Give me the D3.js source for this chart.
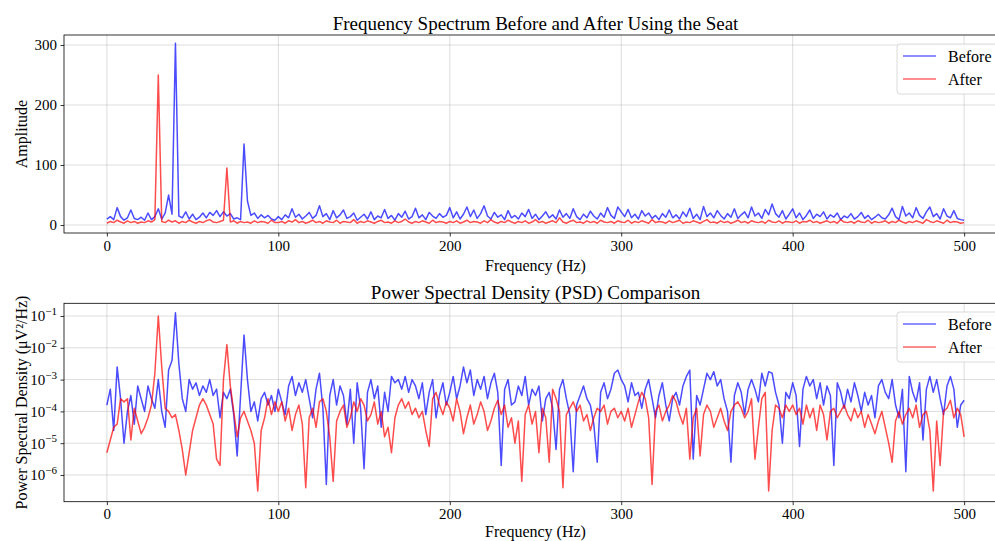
<!DOCTYPE html>
<meta charset="utf-8">
<style>
body { margin: 0; background: #fff; }
svg { font-family: "Liberation Serif", "Times New Roman", serif; }
.grid line { stroke: #b0b0b0; stroke-opacity: 0.55; stroke-width: 0.8; }
.axis path { display: none; }
.axis line { stroke: #000; stroke-width: 0.8; }
.axis text { font-size: 15px; fill: #000; font-family: "Liberation Serif", serif; }
</style>
<body>
<svg width="995" height="541"></svg>
<script src="https://d3js.org/d3.v7.min.js"></script>
<script>
// frequency grid, 2 Hz steps from 0 to 500 Hz
var freqs = d3.range(0, 501, 2);

// amplitude spectrum, one value per 2 Hz
var ampBefore = [
  10,14,9,29,14,8,12,25,11,9,
  13,8,20,9,14,27,10,20,50,18,
  303,15,12,22,10,18,9,13,20,12,
  21,16,24,14,22,15,19,10,12,9,
  135,40,16,20,11,17,12,16,10,8,
  14,9,17,12,27,13,18,10,15,21,
  11,16,32,14,19,9,24,12,17,25,
  11,14,20,8,13,18,10,22,9,15,
  12,26,11,16,8,19,13,23,10,14,
  28,12,17,9,21,15,11,19,13,16,
  29,12,22,10,18,30,14,25,11,19,
  32,15,10,21,13,17,9,24,12,16,
  10,20,14,26,11,18,9,15,22,12,
  17,10,25,13,19,11,27,14,9,18,
  12,23,15,10,20,13,29,16,11,30,
  22,14,26,12,18,10,24,15,20,11,
  16,9,19,13,25,12,17,10,22,14,
  28,11,18,9,31,14,20,12,24,16,
  10,19,13,27,11,17,22,12,30,15,
  20,11,26,17,35,19,13,24,10,18,
  27,12,20,9,16,25,11,18,14,22,
  10,17,13,20,9,15,12,19,10,14,
  21,11,16,9,13,18,12,10,17,28,
  14,9,31,15,20,12,29,16,11,22,
  30,14,19,10,27,15,12,24,11,9,
  8
];
var ampAfter = [
  3,6,4,8,5,3,7,4,6,3,
  5,4,7,5,9,250,6,4,8,5,
  7,3,6,4,8,5,3,6,4,7,
  9,5,4,6,8,95,5,7,3,6,
  4,5,3,7,4,6,5,3,8,4,
  4,6,3,7,5,9,4,6,3,5,
  8,4,6,3,7,5,4,8,3,6,
  5,4,9,3,6,4,7,5,3,6,
  8,4,5,3,7,4,6,10,5,3,
  6,4,7,5,3,8,4,6,5,3,
  6,4,7,3,5,8,4,6,5,3,
  7,4,9,5,3,6,4,8,5,3,
  6,4,7,3,5,9,4,6,3,5,
  7,4,12,5,3,6,8,4,5,3,
  7,4,6,3,8,5,4,6,3,7,
  5,4,8,3,6,4,7,5,3,9,
  4,6,5,3,7,4,6,8,3,5,
  4,7,5,3,6,9,4,5,3,7,
  4,6,3,5,8,4,6,3,7,5,
  4,6,3,8,5,4,7,3,6,5,
  4,7,3,6,5,8,4,6,3,5,
  7,4,6,3,9,5,4,6,3,7,
  5,4,8,3,6,4,5,7,3,6,
  4,8,5,3,6,4,7,5,3,9,
  6,4,7,5,3,8,4,6,5,3,
  4
];

// PSD as log10 exponents, one value per 2 Hz
var psdBeforeLog = [
  -3.8,-3.3,-4.6,-2.6,-3.6,-5.0,-4.0,-3.5,-4.4,-3.2,
  -3.6,-4.0,-3.2,-3.6,-3.9,-3.0,-4.0,-4.5,-2.7,-2.4,
  -0.9,-2.5,-3.6,-4.0,-3.0,-3.3,-3.1,-3.5,-3.2,-3.4,
  -3.0,-3.5,-3.3,-4.2,-3.4,-3.6,-3.3,-4.1,-5.4,-3.5,
  -1.6,-3.0,-4.0,-3.7,-4.3,-3.6,-3.4,-3.8,-3.5,-4.0,
  -3.3,-3.7,-4.1,-3.2,-2.9,-3.5,-3.1,-3.4,-3.0,-3.6,
  -4.2,-3.3,-2.8,-3.9,-6.3,-3.5,-3.0,-3.8,-3.2,-3.5,
  -4.4,-3.3,-5.0,-3.1,-3.9,-5.8,-3.4,-3.0,-3.6,-3.2,
  -4.5,-3.4,-4.0,-2.9,-3.1,-3.0,-3.3,-2.9,-3.4,-3.0,
  -3.2,-3.6,-3.1,-4.1,-3.4,-3.0,-4.2,-3.5,-3.1,-3.8,
  -3.4,-2.9,-3.6,-3.2,-2.6,-3.1,-2.7,-3.5,-3.0,-3.3,
  -2.9,-3.6,-3.1,-2.8,-3.4,-5.7,-3.3,-3.0,-3.8,-3.7,
  -3.2,-3.5,-2.9,-3.8,-3.3,-3.5,-3.2,-4.3,-3.6,-3.4,
  -3.9,-5.2,-3.3,-3.0,-3.6,-4.1,-5.9,-3.8,-3.5,-3.2,
  -3.6,-3.8,-4.4,-5.6,-3.4,-3.1,-3.6,-3.3,-2.8,-2.7,
  -3.0,-3.2,-3.7,-3.1,-3.5,-3.4,-3.9,-3.3,-3.0,-3.6,
  -4.2,-3.5,-3.1,-3.8,-4.3,-3.6,-3.4,-3.8,-3.2,-2.9,
  -2.7,-5.5,-3.5,-3.8,-3.3,-2.8,-3.0,-2.75,-3.2,-3.0,
  -3.6,-4.0,-5.6,-3.5,-3.1,-3.4,-4.1,-3.3,-3.0,-3.3,
  -3.7,-2.8,-3.2,-2.75,-2.8,-3.4,-3.8,-5.0,-3.4,-3.6,
  -3.1,-3.5,-5.1,-3.3,-2.9,-3.2,-3.0,-3.6,-3.1,-3.8,
  -3.2,-3.5,-5.7,-3.1,-3.4,-3.9,-3.3,-3.7,-3.1,-3.5,
  -4.0,-3.4,-3.8,-3.5,-4.2,-3.2,-3.0,-3.4,-3.6,-3.0,
  -3.8,-4.2,-3.3,-5.9,-2.9,-3.4,-3.7,-3.1,-4.9,-3.3,
  -2.9,-3.4,-3.0,-3.6,-4.1,-3.2,-2.9,-3.3,-4.5,-3.8,
  -3.65
];
var psdAfterLog = [
  -5.3,-4.9,-4.5,-4.4,-3.6,-3.7,-3.6,-4.9,-3.9,-4.3,
  -4.7,-4.5,-4.2,-3.8,-2.8,-1.0,-2.6,-3.9,-4.0,-4.2,
  -4.1,-4.6,-5.2,-6.0,-5.3,-4.6,-4.2,-3.8,-3.6,-3.8,
  -4.1,-4.4,-5.5,-5.7,-3.0,-1.9,-3.2,-4.0,-4.8,-4.2,
  -4.0,-4.3,-4.6,-5.0,-6.5,-4.6,-4.2,-3.6,-4.1,-3.7,
  -4.0,-3.7,-4.3,-3.9,-4.6,-4.1,-3.8,-4.4,-6.4,-4.2,
  -3.9,-4.5,-3.7,-3.6,-4.0,-4.8,-6.2,-4.3,-4.0,-3.8,
  -4.5,-4.2,-3.7,-4.0,-3.6,-3.8,-4.3,-4.1,-3.7,-4.4,
  -4.0,-4.8,-4.5,-5.3,-4.2,-3.8,-3.6,-3.9,-3.7,-4.1,
  -3.9,-4.2,-4.0,-4.6,-5.1,-3.6,-3.4,-3.8,-4.1,-3.7,
  -3.9,-4.3,-3.6,-4.0,-4.7,-4.2,-3.8,-4.4,-4.1,-3.7,
  -4.0,-4.6,-4.3,-3.9,-3.65,-4.1,-3.8,-4.5,-4.2,-5.0,
  -4.3,-6.2,-4.1,-3.8,-4.4,-4.0,-5.3,-3.9,-4.2,-5.6,
  -3.3,-3.6,-4.0,-6.4,-4.1,-3.9,-3.7,-4.0,-3.8,-4.3,
  -4.1,-4.6,-4.2,-3.9,-4.0,-3.8,-4.4,-4.0,-3.9,-4.2,
  -4.0,-4.3,-3.9,-4.5,-4.1,-3.7,-3.4,-3.6,-4.2,-6.3,
  -4.0,-3.8,-4.3,-4.0,-3.8,-3.5,-3.7,-4.1,-4.4,-3.9,
  -5.5,-4.2,-3.9,-5.4,-4.1,-3.8,-4.0,-4.5,-4.2,-3.9,
  -4.3,-4.6,-4.0,-3.8,-3.7,-3.9,-4.2,-4.0,-3.6,-5.5,
  -4.5,-3.6,-3.4,-6.5,-4.6,-3.8,-3.9,-4.2,-3.8,-4.0,
  -3.8,-4.1,-3.9,-4.4,-3.8,-4.2,-3.9,-4.6,-3.8,-4.1,
  -4.9,-4.0,-3.9,-4.2,-4.0,-3.8,-4.1,-4.3,-3.9,-4.2,
  -4.0,-4.5,-4.1,-4.4,-4.7,-4.3,-4.0,-4.5,-5.0,-5.6,
  -4.3,-4.0,-4.4,-4.1,-3.9,-4.2,-3.8,-4.5,-4.1,-4.0,
  -4.6,-6.5,-4.3,-5.7,-4.0,-3.9,-3.65,-4.2,-3.9,-4.1,
  -4.8
];

var xTicks = [0, 100, 200, 300, 400, 500];
var ampTicks = [0, 100, 200, 300];
var psdTicks = [1e-6, 1e-5, 1e-4, 1e-3, 1e-2, 1e-1];
var seriesNames = ["Before", "After"];
var seriesColors = ["#0000ff", "#ff0000"];

var svg = d3.select("svg");
svg.append("rect").attr("width", 995).attr("height", 541).attr("fill", "#fff");

var x = d3.scaleLinear().domain([-25, 525]).range([64, 1007]);
var yAmp = d3.scaleLinear().domain([-13.3, 316.7]).range([233, 35]);
var yPsd = d3.scaleLog().domain([Math.pow(10, -6.84), Math.pow(10, -0.6)]).range([501.7, 303.3]);

function panel(y, top, bottom, yTicks, yFormat, series, title, ylabel, titleY, xlabelY, legendY) {
  var g = svg.append("g");
  // grid
  var grid = g.append("g").attr("class", "grid");
  grid.selectAll(".vx").data(xTicks).enter().append("line")
    .attr("x1", d => x(d)).attr("x2", d => x(d)).attr("y1", top).attr("y2", bottom);
  grid.selectAll(".hy").data(yTicks).enter().append("line")
    .attr("x1", 64).attr("x2", 1007).attr("y1", d => y(d)).attr("y2", d => y(d));

  // lines
  var clipId = "clip" + Math.round(top);
  svg.append("clipPath").attr("id", clipId).append("rect")
    .attr("x", 64).attr("y", top).attr("width", 943).attr("height", bottom - top);
  var line = d3.line().x((d, i) => x(freqs[i])).y(d => y(d));
  g.append("g").attr("clip-path", "url(#" + clipId + ")")
    .selectAll("path").data(series).enter().append("path")
    .attr("d", d => line(d))
    .attr("fill", "none")
    .attr("stroke", (d, i) => seriesColors[i])
    .attr("stroke-opacity", 0.7)
    .attr("stroke-width", 1.5)
    .attr("stroke-linejoin", "round");

  // axes
  g.append("g").attr("class", "axis").attr("transform", "translate(0," + bottom + ")")
    .call(d3.axisBottom(x).tickValues(xTicks).tickSize(3.5).tickPadding(3.5));
  var ya = g.append("g").attr("class", "axis").attr("transform", "translate(64,0)")
    .call(d3.axisLeft(y).tickValues(yTicks).tickSize(3.5).tickPadding(3.5).tickFormat(yFormat));

  // frame
  g.append("rect").attr("x", 64).attr("y", top).attr("width", 943).attr("height", bottom - top)
    .attr("fill", "none").attr("stroke", "#000").attr("stroke-width", 0.8);

  g.append("text").attr("x", 535.5).attr("y", titleY).attr("text-anchor", "middle")
    .style("font-size", "19px").text(title);
  g.append("text").attr("x", 535.5).attr("y", xlabelY).attr("text-anchor", "middle")
    .style("font-size", "16px").text("Frequency (Hz)");
  g.append("text").attr("transform", "translate(" + 27 + "," + ((top + bottom) / 2) + ") rotate(-90)")
    .attr("text-anchor", "middle").style("font-size", "16px").text(ylabel);

  // legend
  var lg = g.append("g").attr("transform", "translate(897," + legendY + ")");
  lg.append("rect").attr("width", 120).attr("height", 50).attr("rx", 3)
    .attr("fill", "#fff").attr("fill-opacity", 0.8).attr("stroke", "#d0d0d0").attr("stroke-width", 0.8);
  seriesNames.forEach(function(name, i) {
    lg.append("line").attr("x1", 6).attr("x2", 39).attr("y1", 12 + i * 23).attr("y2", 12 + i * 23)
      .attr("stroke", seriesColors[i]).attr("stroke-opacity", 0.6).attr("stroke-width", 1.5);
    lg.append("text").attr("x", 51).attr("y", 17.5 + i * 23).style("font-size", "16px").text(name);
  });
  return ya;
}

panel(yAmp, 35, 233, ampTicks, d3.format("d"), [ampBefore, ampAfter],
  "Frequency Spectrum Before and After Using the Seat", "Amplitude", 30, 271, 44);

var psdBefore = psdBeforeLog.map(v => Math.pow(10, v));
var psdAfter = psdAfterLog.map(v => Math.pow(10, v));
var ya = panel(yPsd, 303.3, 501.7, psdTicks, d => "", [psdBefore, psdAfter],
  "Power Spectral Density (PSD) Comparison", "Power Spectral Density (\u03bcV\u00b2/Hz)", 298.5, 537, 312);

// log tick labels as 10^n
ya.selectAll(".tick text").each(function(d) {
  var t = d3.select(this);
  t.text(null);
  t.append("tspan").text("10");
  t.append("tspan").attr("dy", "-0.55em").style("font-size", "11px")
    .text("\u2212" + Math.round(-Math.log10(d)));
});
</script>
</body>
